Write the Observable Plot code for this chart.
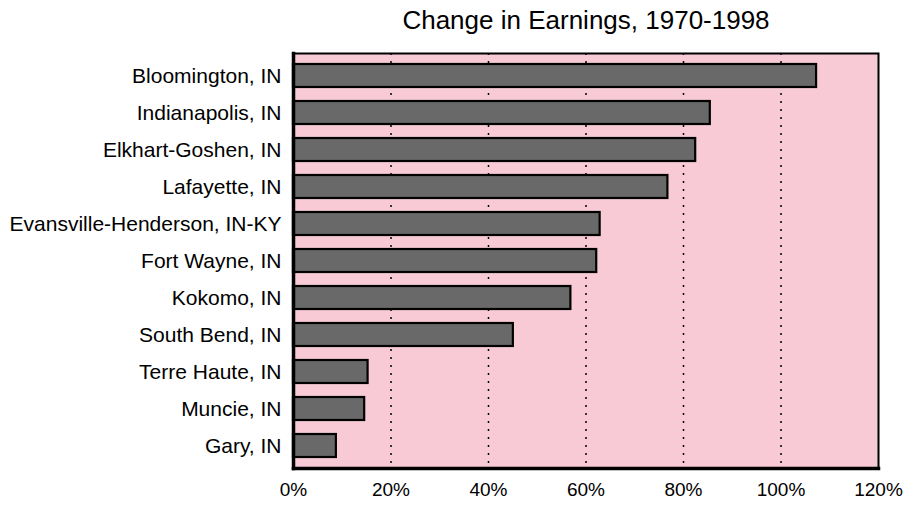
<!DOCTYPE html>
<html>
<head>
<meta charset="utf-8">
<script src="https://cdn.jsdelivr.net/npm/d3@7"></script>
<script src="https://cdn.jsdelivr.net/npm/@observablehq/plot@0.6"></script>
<style>
  html, body { margin: 0; padding: 0; background: #fff; }
  svg { display: block; }
</style>
</head>
<body>
<div id="chart"></div>
<script>
const title = "Change in Earnings, 1970-1998";
const cities = [
  "Bloomington, IN",
  "Indianapolis, IN",
  "Elkhart-Goshen, IN",
  "Lafayette, IN",
  "Evansville-Henderson, IN-KY",
  "Fort Wayne, IN",
  "Kokomo, IN",
  "South Bend, IN",
  "Terre Haute, IN",
  "Muncie, IN",
  "Gary, IN"
];
const changes = [107.3, 85.5, 82.5, 76.8, 62.9, 62.2, 56.9, 45.1, 15.3, 14.6, 8.8];
const xTicks = [0, 20, 40, 60, 80, 100, 120];
const gridTicks = [20, 40, 60, 80, 100];

const data = cities.map((c, i) => ({city: c, value: changes[i]}));

const chart = Plot.plot({
  width: 905,
  height: 506,
  marginLeft: 293,
  marginRight: 27,
  marginTop: 53,
  marginBottom: 38,
  style: {fontFamily: "'Liberation Sans', Arial, Helvetica, sans-serif", fontSize: "21px", color: "#000", background: "#fff"},
  x: {domain: [0, 120], label: null},
  y: {domain: cities, paddingInner: 0.39, paddingOuter: 0.23, label: null},
  marks: [
    Plot.frame({fill: "#f7cad5", stroke: null}),
    Plot.ruleX(gridTicks, {stroke: "#000", strokeWidth: 1.5, strokeDasharray: "2,6"}),
    Plot.barX(data, {x: "value", y: "city", fill: "#696969", stroke: "#000", strokeWidth: 2.2}),
    Plot.frame({stroke: "#000", strokeWidth: 2}),
    Plot.frame({anchor: "left", stroke: "#000", strokeWidth: 3.5}),
    Plot.frame({anchor: "bottom", stroke: "#000", strokeWidth: 3.5}),
    Plot.axisY({tickSize: 0, tickPadding: 12, fontSize: 21, label: null}),
    Plot.axisX({ticks: xTicks, tickFormat: d => d + "%", tickSize: 0, tickPadding: 14, fontSize: 19, label: null}),
    Plot.text([title], {frameAnchor: "top", lineAnchor: "middle", dy: -33, fontSize: 26, fill: "#000"})
  ]
});
document.getElementById("chart").appendChild(chart);
</script>
</body>
</html>
